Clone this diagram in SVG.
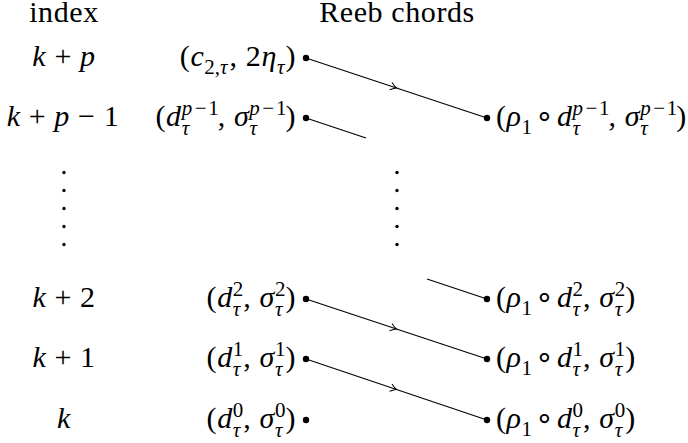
<svg xmlns="http://www.w3.org/2000/svg" width="688" height="443" viewBox="0 0 688 443" font-family="'Liberation Serif', 'DejaVu Serif', serif">
<style>
.t{font-family:'Liberation Serif','DejaVu Serif',serif;font-size:30px;letter-spacing:0.6px;fill:#000}
.i{font-style:italic}
.s{font-size:21px;letter-spacing:0}
.op{font-family:'DejaVu Sans',sans-serif;font-size:30px;letter-spacing:0}
.dot{fill:#000}
.ln{stroke:#000;stroke-width:1.1;fill:none}
</style>
<defs>
<marker id="to" markerUnits="userSpaceOnUse" markerWidth="12" markerHeight="12" viewBox="-8 -6 10 12" refX="0" refY="0" orient="auto" overflow="visible">
<path d="M-6,-3.8 Q-2,-0.6 0,0 Q-2,0.6 -6,3.8" fill="none" stroke="#000" stroke-width="1"/>
</marker>
</defs>
<rect width="688" height="443" fill="#fff"/>
<g id="headers">
<text class="t" x="64" y="22" text-anchor="middle">index</text>
<text class="t" x="397" y="22" text-anchor="middle">Reeb chords</text>
</g>
<g id="index-labels">
<text class="t" x="64" y="65.5" text-anchor="middle"><tspan class="i">k</tspan> + <tspan class="i">p</tspan></text>
<text class="t" x="63" y="125.5" text-anchor="middle"><tspan class="i">k</tspan> + <tspan class="i">p</tspan> − 1</text>
<text class="t" x="64" y="306.5" text-anchor="middle"><tspan class="i">k</tspan> + 2</text>
<text class="t" x="64" y="366.5" text-anchor="middle"><tspan class="i">k</tspan> + 1</text>
<text class="t" x="64" y="427.5" text-anchor="middle"><tspan class="i">k</tspan></text>
</g>
<g id="vdots-left">
<circle class="dot" cx="64" cy="172.5" r="1.7"/><circle class="dot" cx="64" cy="190.5" r="1.7"/><circle class="dot" cx="64" cy="208.5" r="1.7"/><circle class="dot" cx="64" cy="226.5" r="1.7"/><circle class="dot" cx="64" cy="244.5" r="1.7"/>
</g>
<g id="vdots-right">
<circle class="dot" cx="397" cy="172.5" r="1.7"/><circle class="dot" cx="397" cy="190.5" r="1.7"/><circle class="dot" cx="397" cy="208.5" r="1.7"/><circle class="dot" cx="397" cy="226.5" r="1.7"/><circle class="dot" cx="397" cy="244.5" r="1.7"/>
</g>
<g id="connectors">
<path class="ln" d="M306,58 L396.5,88 L487,118" marker-mid="url(#to)"/>
<path class="ln" d="M306,118 L366,138"/>
<path class="ln" d="M427,279 L487,299"/>
<path class="ln" d="M306,299 L396.5,329 L487,359" marker-mid="url(#to)"/>
<path class="ln" d="M306,359 L396.5,389.5 L487,420" marker-mid="url(#to)"/>
</g>
<g id="chord-c2">
<text class="t" x="296" y="65.5" text-anchor="end">(<tspan class="i">c</tspan><tspan class="s" dy="8">2,</tspan><tspan class="s i">τ</tspan><tspan dy="-8" dx="2">, 2</tspan><tspan class="i">η</tspan><tspan class="s i" dy="8">τ</tspan><tspan dy="-8" dx="1">)</tspan></text>
<circle class="dot" cx="306" cy="58" r="3.2"/>
</g>
<g id="chord-dp1">
<text class="t" x="296" y="125.5" text-anchor="end">(<tspan class="i">d</tspan><tspan class="s i" dy="-11">p</tspan><tspan class="s" dx="2.5">−</tspan><tspan class="s" dx="1.7">1</tspan><tspan class="s i" dx="-37" dy="20">τ</tspan><tspan dx="28.5" dy="-9">, </tspan><tspan class="i">σ</tspan><tspan class="s i" dy="-11">p</tspan><tspan class="s" dx="2.5">−</tspan><tspan class="s" dx="1.7">1</tspan><tspan class="s i" dx="-37" dy="20">τ</tspan><tspan dx="28.5" dy="-9">)</tspan></text>
<circle class="dot" cx="306" cy="118" r="3.2"/>
</g>
<g id="chord-d2">
<text class="t" x="296" y="306.5" text-anchor="end">(<tspan class="i">d</tspan><tspan class="s" dy="-11">2</tspan><tspan class="s i" dx="-10.5" dy="20">τ</tspan><tspan dx="3" dy="-9">, </tspan><tspan class="i">σ</tspan><tspan class="s" dy="-11">2</tspan><tspan class="s i" dx="-10.5" dy="20">τ</tspan><tspan dx="3" dy="-9">)</tspan></text>
<circle class="dot" cx="306" cy="299" r="3.2"/>
</g>
<g id="chord-d1">
<text class="t" x="296" y="366.5" text-anchor="end">(<tspan class="i">d</tspan><tspan class="s" dy="-11">1</tspan><tspan class="s i" dx="-10.5" dy="20">τ</tspan><tspan dx="3" dy="-9">, </tspan><tspan class="i">σ</tspan><tspan class="s" dy="-11">1</tspan><tspan class="s i" dx="-10.5" dy="20">τ</tspan><tspan dx="3" dy="-9">)</tspan></text>
<circle class="dot" cx="306" cy="359" r="3.2"/>
</g>
<g id="chord-d0">
<text class="t" x="296" y="427.5" text-anchor="end">(<tspan class="i">d</tspan><tspan class="s" dy="-11">0</tspan><tspan class="s i" dx="-10.5" dy="20">τ</tspan><tspan dx="3" dy="-9">, </tspan><tspan class="i">σ</tspan><tspan class="s" dy="-11">0</tspan><tspan class="s i" dx="-10.5" dy="20">τ</tspan><tspan dx="3" dy="-9">)</tspan></text>
<circle class="dot" cx="306" cy="420" r="3.2"/>
</g>
<g id="chord-rho-dp1">
<circle class="dot" cx="487" cy="118" r="3.2"/>
<text class="t" x="496" y="125.5">(<tspan class="i">ρ</tspan><tspan class="s" dy="8">1</tspan><tspan class="op" dy="-8" dx="3">∘</tspan><tspan class="i" dx="3">d</tspan><tspan class="s i" dy="-11">p</tspan><tspan class="s" dx="2.5">−</tspan><tspan class="s" dx="1.7">1</tspan><tspan class="s i" dx="-37" dy="20">τ</tspan><tspan dx="28.5" dy="-9">, </tspan><tspan class="i">σ</tspan><tspan class="s i" dy="-11">p</tspan><tspan class="s" dx="2.5">−</tspan><tspan class="s" dx="1.7">1</tspan><tspan class="s i" dx="-37" dy="20">τ</tspan><tspan dx="28.5" dy="-9">)</tspan></text>
</g>
<g id="chord-rho-d2">
<circle class="dot" cx="487" cy="299" r="3.2"/>
<text class="t" x="496" y="306.5">(<tspan class="i">ρ</tspan><tspan class="s" dy="8">1</tspan><tspan class="op" dy="-8" dx="3">∘</tspan><tspan class="i" dx="3">d</tspan><tspan class="s" dy="-11">2</tspan><tspan class="s i" dx="-10.5" dy="20">τ</tspan><tspan dx="3" dy="-9">, </tspan><tspan class="i">σ</tspan><tspan class="s" dy="-11">2</tspan><tspan class="s i" dx="-10.5" dy="20">τ</tspan><tspan dx="3" dy="-9">)</tspan></text>
</g>
<g id="chord-rho-d1">
<circle class="dot" cx="487" cy="359" r="3.2"/>
<text class="t" x="496" y="366.5">(<tspan class="i">ρ</tspan><tspan class="s" dy="8">1</tspan><tspan class="op" dy="-8" dx="3">∘</tspan><tspan class="i" dx="3">d</tspan><tspan class="s" dy="-11">1</tspan><tspan class="s i" dx="-10.5" dy="20">τ</tspan><tspan dx="3" dy="-9">, </tspan><tspan class="i">σ</tspan><tspan class="s" dy="-11">1</tspan><tspan class="s i" dx="-10.5" dy="20">τ</tspan><tspan dx="3" dy="-9">)</tspan></text>
</g>
<g id="chord-rho-d0">
<circle class="dot" cx="487" cy="420" r="3.2"/>
<text class="t" x="496" y="427.5">(<tspan class="i">ρ</tspan><tspan class="s" dy="8">1</tspan><tspan class="op" dy="-8" dx="3">∘</tspan><tspan class="i" dx="3">d</tspan><tspan class="s" dy="-11">0</tspan><tspan class="s i" dx="-10.5" dy="20">τ</tspan><tspan dx="3" dy="-9">, </tspan><tspan class="i">σ</tspan><tspan class="s" dy="-11">0</tspan><tspan class="s i" dx="-10.5" dy="20">τ</tspan><tspan dx="3" dy="-9">)</tspan></text>
</g>
</svg>
